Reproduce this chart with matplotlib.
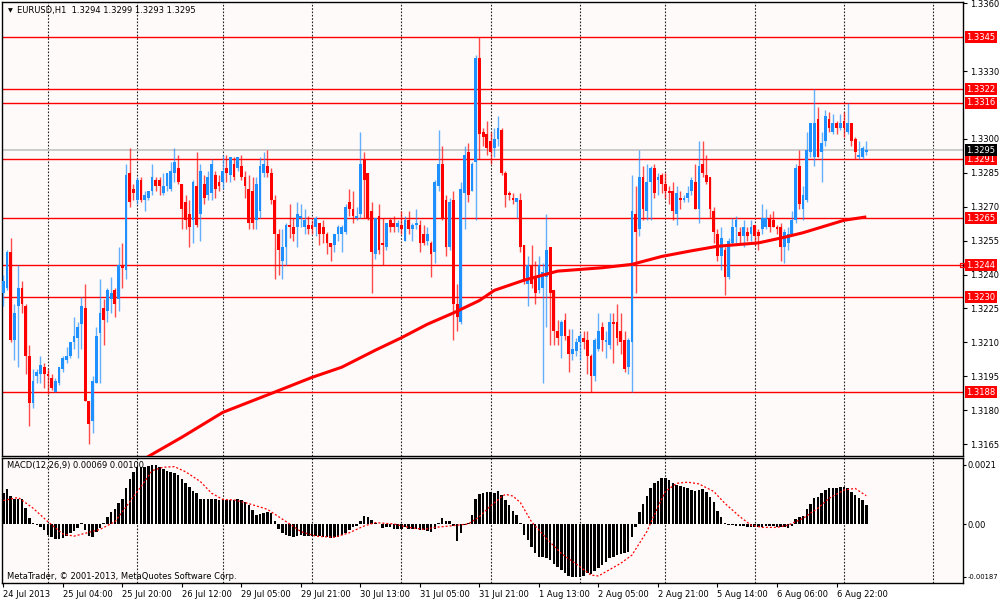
import numpy as np
import matplotlib
matplotlib.use("Agg")
import matplotlib.pyplot as plt
from matplotlib.transforms import blended_transform_factory

# ---------------- data (prices in points of 0.0001) ----------------
open_pts = [
13232,13234,13250,13211,13226,13234,13226,13204,13183,13195,
13196,13199,13196,13194,13188,13192,13198,13202,13204,13210,
13212,13218,13225,13184,13175,13192,13214,13225,13224,13229,
13233,13229,13244,13242,13285,13278,13273,13282,13273,13274,
13277,13282,13282,13276,13279,13278,13285,13287,13280,13272,
13267,13264,13279,13267,13280,13275,13276,13284,13281,13281,
13287,13284,13289,13287,13288,13283,13278,13277,13264,13268,
13285,13288,13285,13273,13258,13246,13252,13262,13261,13261,
13265,13261,13262,13262,13261,13263,13261,13258,13254,13253,
13258,13258,13259,13272,13269,13265,13267,13291,13285,13268,
13249,13266,13254,13252,13264,13263,13261,13262,13255,13264,
13260,13262,13262,13258,13255,13254,13250,13279,13289,13273,
13252,13273,13227,13219,13276,13294,13277,13290,13336,13303,
13302,13299,13296,13300,13304,13285,13276,13274,13272,13273,
13253,13236,13244,13239,13233,13234,13239,13252,13233,13215,
13213,13220,13213,13205,13206,13210,13212,13211,13204,13195,
13207,13217,13210,13209,13219,13219,13215,13211,13199,13210,
13267,13260,13283,13268,13281,13287,13282,13284,13280,13277,
13277,13267,13274,13273,13274,13277,13281,13269,13289,13284,
13283,13268,13258,13248,13251,13239,13254,13261,13259,13257,
13259,13258,13262,13259,13260,13261,13265,13264,13261,13261,
13252,13254,13258,13264,13288,13269,13273,13294,13292,13309,
13294,13299,13309,13303,13307,13305,13308,13303,13307,13300,
13292,13292,13294]

high_pts = [
13240,13251,13256,13227,13244,13237,13227,13209,13198,13198,
13204,13201,13198,13196,13194,13199,13204,13208,13210,13221,
13219,13230,13236,13184,13195,13217,13238,13229,13234,13239,
13234,13252,13254,13289,13296,13280,13283,13283,13277,13277,
13289,13283,13283,13285,13285,13290,13296,13293,13280,13275,
13273,13282,13294,13289,13284,13286,13291,13286,13284,13293,
13293,13292,13292,13292,13293,13286,13284,13283,13283,13292,
13294,13295,13287,13275,13260,13260,13263,13271,13265,13272,
13271,13269,13266,13264,13266,13263,13264,13259,13254,13258,
13262,13262,13271,13278,13277,13270,13303,13294,13285,13272,
13265,13271,13265,13263,13265,13266,13264,13268,13266,13268,
13263,13269,13264,13262,13261,13255,13282,13304,13297,13275,
13274,13277,13236,13281,13297,13298,13290,13337,13345,13305,
13308,13303,13305,13310,13305,13286,13277,13276,13274,13276,
13253,13248,13253,13246,13248,13245,13267,13252,13233,13220,
13220,13223,13216,13216,13212,13214,13215,13215,13205,13212,
13223,13219,13215,13223,13223,13227,13223,13215,13212,13284,
13279,13295,13288,13289,13288,13289,13285,13285,13285,13279,
13281,13279,13277,13275,13279,13283,13289,13299,13299,13293,
13283,13270,13260,13261,13252,13256,13265,13266,13261,13264,
13261,13264,13262,13260,13271,13269,13267,13268,13262,13263,
13260,13261,13268,13289,13295,13279,13303,13307,13322,13314,
13303,13313,13312,13311,13308,13311,13312,13316,13307,13301,
13299,13297,13299]

low_pts = [
13226,13233,13210,13202,13199,13223,13196,13173,13181,13192,
13192,13190,13187,13189,13188,13191,13197,13201,13203,13207,
13203,13207,13184,13165,13170,13192,13192,13209,13219,13223,
13221,13224,13234,13238,13270,13273,13271,13272,13268,13273,
13275,13277,13275,13275,13277,13277,13281,13280,13260,13260,
13252,13254,13261,13255,13271,13273,13273,13274,13277,13278,
13281,13281,13282,13286,13282,13274,13260,13260,13260,13265,
13283,13283,13271,13238,13240,13238,13244,13256,13255,13252,
13261,13258,13258,13258,13257,13253,13254,13249,13246,13250,
13255,13250,13258,13266,13263,13264,13265,13265,13264,13232,
13247,13249,13244,13251,13259,13259,13259,13258,13255,13258,
13255,13260,13250,13253,13253,13239,13245,13277,13264,13248,
13251,13211,13215,13218,13260,13272,13277,13264,13291,13297,
13293,13289,13292,13297,13284,13270,13273,13271,13265,13250,
13236,13226,13234,13227,13232,13192,13217,13209,13209,13209,
13203,13211,13197,13202,13204,13202,13207,13196,13188,13193,
13206,13206,13203,13207,13201,13209,13205,13197,13196,13188,
13232,13257,13264,13264,13264,13274,13275,13276,13274,13271,
13264,13262,13269,13272,13272,13275,13269,13263,13283,13280,
13265,13254,13246,13242,13231,13238,13253,13253,13254,13252,
13255,13255,13253,13251,13258,13260,13259,13261,13258,13246,
13245,13251,13258,13263,13269,13264,13272,13292,13288,13292,
13281,13297,13303,13302,13302,13304,13301,13302,13297,13291,
13291,13291,13293]

close_pts = [
13237,13250,13211,13223,13234,13227,13204,13183,13193,13197,
13200,13196,13195,13190,13193,13199,13203,13204,13210,13213,
13217,13226,13184,13174,13193,13213,13223,13220,13233,13232,
13227,13244,13243,13284,13272,13276,13282,13273,13275,13277,
13283,13279,13279,13279,13285,13286,13290,13281,13269,13264,
13261,13281,13262,13286,13274,13283,13289,13278,13279,13286,
13285,13292,13283,13292,13283,13279,13263,13263,13280,13288,
13289,13285,13273,13258,13251,13252,13262,13261,13258,13267,
13266,13264,13260,13260,13265,13258,13258,13254,13252,13258,
13261,13261,13270,13269,13266,13266,13289,13282,13265,13250,
13265,13251,13253,13263,13261,13261,13263,13260,13264,13260,
13262,13263,13254,13254,13258,13249,13281,13289,13265,13252,
13272,13227,13221,13278,13293,13275,13289,13336,13302,13301,
13296,13294,13300,13305,13285,13275,13275,13273,13274,13252,
13238,13244,13236,13232,13244,13241,13251,13232,13215,13212,
13219,13213,13205,13207,13210,13213,13210,13204,13195,13211,
13215,13211,13211,13219,13218,13212,13210,13198,13211,13268,
13259,13283,13269,13281,13287,13276,13283,13280,13277,13276,
13268,13276,13273,13274,13276,13282,13269,13288,13285,13281,
13269,13259,13248,13256,13239,13255,13261,13264,13257,13261,
13257,13261,13257,13257,13265,13265,13261,13261,13260,13252,
13259,13258,13264,13287,13271,13275,13295,13307,13307,13292,
13298,13310,13305,13307,13305,13307,13305,13307,13299,13294,
13293,13296,13295]

# MACD histogram, units of 0.00001
macd_hist = [
109,123,99,87,87,87,56,20,5,-4,
-12,-21,-39,-47,-54,-54,-48,-43,-33,-25,
-15,5,-21,-43,-47,-27,-15,5,26,44,
52,76,87,126,158,185,201,203,203,205,
209,209,203,194,189,185,182,174,158,144,
132,117,111,87,87,87,87,87,85,85,
85,85,85,87,85,79,67,50,32,35,
40,43,38,12,-19,-31,-39,-43,-47,-43,
-39,-43,-43,-43,-43,-43,-45,-47,-51,-47,
-45,-39,-31,-21,-12,-7,12,28,26,14,
5,0,-15,-12,-12,-19,-19,-19,-12,-19,
-19,-19,-21,-21,-25,-27,-19,5,20,12,
11,-7,-59,-31,-4,5,32,87,106,111,
115,115,111,118,103,85,67,47,32,5,
-38,-57,-80,-104,-118,-118,-122,-128,-142,-151,
-163,-172,-184,-189,-189,-187,-184,-175,-177,-165,
-157,-145,-133,-122,-116,-110,-106,-104,-98,-47,
-9,44,71,99,126,144,153,162,162,156,
146,138,135,130,126,120,118,120,123,115,
97,79,47,26,2,-4,-4,-7,-7,-7,
-12,-9,-12,-12,-9,-7,-7,-7,-9,-12,
-12,-15,-7,17,26,28,52,71,91,97,
111,120,126,129,129,130,130,126,115,103,
91,85,69]

# MACD signal line (bar index, units of 0.00001)
signal_bars = [0,4,8,12,16,19,22,26,30,33,37,40,43,46,49,53,56,59,62,65,71,74,77,80,84,89,93,97,
               100,105,109,113,116,120,125,128,131,134,135,137,139,142,146,150,155,158,160,162,166,
               169,173,176,178,181,184,187,191,194,198,201,204,208,211,215,219,222,226,229,232]
signal_vals = [83,94,56,8,-35,-43,-33,-19,8,61,132,189,201,203,185,150,109,87,85,76,52,26,0,-27,-43,-47,-31,-7,
               5,0,-12,-19,-12,-7,0,26,64,97,105,99,76,8,-51,-104,-151,-181,-184,-169,-139,
               -110,-27,61,115,144,148,142,115,73,26,-4,-12,-12,-4,20,56,91,120,126,100]

# moving average (bar index, points of 0.0001)
ma_bars = [36, 39, 48, 59, 73, 83, 91, 100, 107, 114, 121, 128, 132, 140, 149, 161, 169, 177,
           185, 192, 203, 210, 215, 220, 226, 232]
ma_vals = [13156, 13159.5, 13168, 13179, 13188, 13194.5, 13199, 13206.5, 13212, 13218, 13223,
           13228.5, 13233, 13237.5, 13241.5, 13243, 13244.5, 13248, 13250.5, 13252.5, 13254,
           13256.5, 13258.5, 13261, 13264, 13265.5]

level_prices = [1.3345, 1.3322, 1.3316, 1.3291, 1.3265, 1.3244, 1.3230, 1.3188]
bid_price = 1.3295
price_ticks = [1.3360, 1.3330, 1.3300, 1.3285, 1.3270, 1.3255, 1.3240, 1.3225, 1.3210, 1.3195, 1.3180, 1.3165]
macd_ticks = [0.0021, 0.0, -0.00187]
macd_tick_labels = ["0.0021", "0.00", "-0.00187"]
time_labels = ["24 Jul 2013", "25 Jul 04:00", "25 Jul 20:00", "26 Jul 12:00", "29 Jul 05:00",
               "29 Jul 21:00", "30 Jul 13:00", "31 Jul 05:00", "31 Jul 21:00", "1 Aug 13:00",
               "2 Aug 05:00", "2 Aug 21:00", "5 Aug 14:00", "6 Aug 06:00", "6 Aug 22:00"]
label_step = 16
day_start_bars = [12, 36, 59, 83, 107, 131, 155, 178, 202, 226, 250]

title_text = "EURUSD,H1  1.3294 1.3299 1.3293 1.3295"
macd_text = "MACD(12,26,9) 0.00069 0.00100"
copyright_text = "MetaTrader, \u00a9 2001-2013, MetaQuotes Software Corp."

# ---------------- drawing ----------------
plt.rcParams["font.family"] = ["DejaVu Sans"]
FS = 6

o = np.array(open_pts) / 1e4
h = np.array(high_pts) / 1e4
l = np.array(low_pts) / 1e4
c = np.array(close_pts) / 1e4
n = len(o)
x = np.arange(n)
up = c >= o

fig = plt.figure(figsize=(10, 6), dpi=100)
fig.patch.set_facecolor("white")
ax = fig.add_axes([0.002, 0.24, 0.961, 0.7567])
ax2 = fig.add_axes([0.002, 0.0283, 0.961, 0.2084])

BG = "#fffafa"
for a in (ax, ax2):
    a.set_facecolor(BG)
    a.set_xlim(-0.35, 258)
    for g in day_start_bars:
        a.axvline(g, color="#202020", lw=0.8, ls=(0, (1.5, 1.5)), zorder=1)
    for s in a.spines.values():
        s.set_color("black")
        s.set_linewidth(1.0)

# main price panel
ax.set_ylim(1.31597, 1.33606)
ax.axhline(bid_price, color="#c8c8c8", lw=1.3, zorder=1.5)
for lv in level_prices:
    ax.axhline(lv, color="#ff0000", lw=1.0, zorder=2)

hi = np.maximum(h, np.maximum(o, c))
lo = np.minimum(l, np.minimum(o, c))
cols = np.where(up, "#1e90ff", "#ff0000")
ax.vlines(x, lo, hi, colors=cols, lw=1.0, alpha=0.7, zorder=3)
body_bottom = np.minimum(o, c)
body_h = np.maximum(np.abs(c - o), 0.00003)
ax.bar(x, body_h, bottom=body_bottom, width=0.75, color=cols, lw=0, zorder=4)

ax.plot(ma_bars, np.array(ma_vals) / 1e4, color="#ff0000", lw=2.2, zorder=5,
        solid_capstyle="butt", solid_joinstyle="round")

ax.yaxis.tick_right()
ax.set_yticks(price_ticks)
ax.set_yticklabels([f"{p:.4f}" for p in price_ticks], fontsize=FS)
ax.tick_params(axis="y", length=3, width=0.8, pad=2, colors="black")
ax.set_xticks([])

tr = blended_transform_factory(ax.transAxes, ax.transData)
for lv in level_prices:
    ax.text(1.0035, lv, f"{lv:.4f}", transform=tr, ha="left", va="center", fontsize=FS,
            color="white", clip_on=False, zorder=10,
            bbox=dict(boxstyle="square,pad=0.18", fc="#ff0000", ec="none"))
ax.text(1.0035, bid_price, f"{bid_price:.4f}", transform=tr, ha="left", va="center", fontsize=FS,
        color="white", clip_on=False, zorder=11,
        bbox=dict(boxstyle="square,pad=0.18", fc="black", ec="none"))
ax.plot([0.9985], [level_prices[5]], transform=tr, marker="s", ms=3.2, mfc="none", mec="#ff0000",
        mew=0.9, clip_on=False, zorder=9)

# MACD panel
ax2.bar(x, np.array(macd_hist) / 1e5, width=0.68, color="black", lw=0, zorder=3)
ax2.plot(signal_bars, np.array(signal_vals) / 1e5, color="#ff0000", lw=0.9,
         ls=(0, (1.6, 1.6)), zorder=4)
ax2.set_ylim(-0.002089, 0.002337)
ax2.yaxis.tick_right()
ax2.set_yticks(macd_ticks)
ax2.set_yticklabels(macd_tick_labels, fontsize=FS)
ax2.get_yticklabels()[2].set_fontsize(4.9)
ax2.tick_params(axis="y", length=2.5, width=0.8, pad=0.8)
ax2.set_xticks(np.arange(len(time_labels)) * label_step)
ax2.set_xticklabels(time_labels, fontsize=FS, ha="left")
ax2.tick_params(axis="x", length=3, width=0.8, pad=2)

# header texts
fig.text(0.0075, 1 - 10.5 / 600, "\u25bc", fontsize=4.5, va="center", ha="left")
fig.text(0.017, 1 - 10 / 600, title_text, fontsize=FS, va="center", ha="left")
ax2.text(0.005, 0.94, macd_text, transform=ax2.transAxes, fontsize=FS, va="center", ha="left")
ax2.text(0.005, 0.05, copyright_text, transform=ax2.transAxes, fontsize=FS, va="center", ha="left")

fig.savefig("out.png", dpi=100, facecolor=fig.get_facecolor())
